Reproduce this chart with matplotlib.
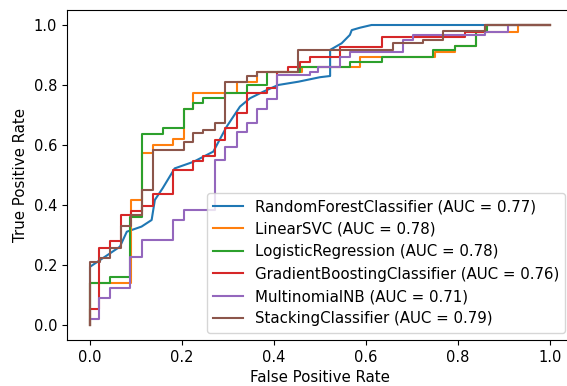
import matplotlib
matplotlib.use("Agg")
import matplotlib.pyplot as plt

# step vertices (fpr, tpr)
labels = ["RandomForestClassifier", "LinearSVC", "LogisticRegression",
          "GradientBoostingClassifier", "MultinomialNB", "StackingClassifier"]
aucs = [0.77, 0.78, 0.78, 0.76, 0.71, 0.79]

rf_fpr = [0, 0, 0.065, 0.080, 0.112, 0.134, 0.141, 0.158, 0.184, 0.225, 0.268, 0.297,
          0.326, 0.348, 0.377, 0.409, 0.453, 0.500, 0.522, 0.522, 0.547, 0.565, 0.569,
          0.587, 0.612, 1.0]
rf_tpr = [0, 0.194, 0.261, 0.311, 0.328, 0.350, 0.417, 0.456, 0.522, 0.544, 0.578, 0.661,
          0.728, 0.756, 0.778, 0.800, 0.811, 0.826, 0.830, 0.917, 0.939, 0.967, 0.983,
          0.991, 1.0, 1.0]

svc_fpr = [0, 0, 0.089, 0.089, 0.113, 0.113, 0.137, 0.137, 0.181, 0.181, 0.204, 0.204,
           0.225, 0.225, 0.319, 0.319, 0.362, 0.362, 0.460, 0.460, 0.587, 0.587, 0.750,
           0.750, 0.793, 0.793, 0.839, 0.839, 0.931, 0.931, 1.0]
svc_tpr = [0, 0.139, 0.139, 0.417, 0.417, 0.575, 0.575, 0.600, 0.600, 0.620, 0.620, 0.720,
           0.720, 0.775, 0.775, 0.811, 0.811, 0.845, 0.845, 0.861, 0.861, 0.894, 0.894,
           0.911, 0.911, 0.930, 0.930, 0.978, 0.978, 1.0, 1.0]

lr_fpr = [0, 0, 0.043, 0.043, 0.088, 0.088, 0.113, 0.113, 0.159, 0.159, 0.204, 0.204,
          0.225, 0.225, 0.246, 0.246, 0.293, 0.293, 0.341, 0.341, 0.384, 0.384, 0.457,
          0.457, 0.565, 0.565, 0.634, 0.634, 0.746, 0.746, 0.793, 0.793, 0.839, 0.839,
          0.862, 0.862, 1.0]
lr_tpr = [0, 0.139, 0.139, 0.160, 0.160, 0.360, 0.360, 0.636, 0.636, 0.658, 0.658, 0.720,
          0.720, 0.739, 0.739, 0.756, 0.756, 0.772, 0.772, 0.800, 0.800, 0.845, 0.845,
          0.860, 0.860, 0.878, 0.878, 0.894, 0.894, 0.917, 0.917, 0.930, 0.930, 0.978,
          0.978, 1.0, 1.0]

gb_fpr = [0, 0, 0.020, 0.020, 0.043, 0.043, 0.067, 0.067, 0.090, 0.090, 0.112, 0.112,
          0.137, 0.137, 0.181, 0.181, 0.225, 0.225, 0.246, 0.246, 0.272, 0.272, 0.293,
          0.293, 0.319, 0.319, 0.341, 0.341, 0.384, 0.384, 0.406, 0.406, 0.431, 0.431,
          0.457, 0.457, 0.478, 0.478, 0.543, 0.543, 0.634, 0.634, 0.815, 0.815, 0.859,
          0.859, 1.0]
gb_tpr = [0, 0.054, 0.054, 0.258, 0.258, 0.280, 0.280, 0.367, 0.367, 0.380, 0.380, 0.397,
          0.397, 0.436, 0.436, 0.518, 0.518, 0.547, 0.547, 0.564, 0.564, 0.617, 0.617,
          0.656, 0.656, 0.706, 0.706, 0.772, 0.772, 0.789, 0.789, 0.843, 0.843, 0.860,
          0.860, 0.878, 0.878, 0.894, 0.894, 0.928, 0.928, 0.960, 0.960, 0.978, 0.978,
          1.0, 1.0]

nb_fpr = [0, 0, 0.020, 0.020, 0.043, 0.043, 0.088, 0.088, 0.112, 0.112, 0.181, 0.181,
          0.204, 0.204, 0.272, 0.272, 0.293, 0.293, 0.319, 0.319, 0.341, 0.341, 0.362,
          0.362, 0.384, 0.384, 0.406, 0.406, 0.478, 0.478, 0.496, 0.496, 0.543, 0.543,
          0.565, 0.565, 0.681, 0.681, 0.703, 0.703, 0.859, 0.859, 0.909, 0.909, 1.0]
nb_tpr = [0, 0.019, 0.019, 0.089, 0.089, 0.125, 0.125, 0.227, 0.227, 0.282, 0.282, 0.350,
          0.350, 0.383, 0.383, 0.550, 0.550, 0.592, 0.592, 0.645, 0.645, 0.675, 0.675,
          0.720, 0.720, 0.753, 0.753, 0.833, 0.833, 0.844, 0.844, 0.861, 0.861, 0.894,
          0.894, 0.911, 0.911, 0.950, 0.950, 0.967, 0.967, 0.978, 0.978, 1.0, 1.0]

st_fpr = [0, 0, 0.022, 0.022, 0.043, 0.043, 0.067, 0.067, 0.089, 0.089, 0.112, 0.112,
          0.138, 0.138, 0.204, 0.204, 0.225, 0.225, 0.246, 0.246, 0.272, 0.272, 0.293,
          0.293, 0.341, 0.341, 0.362, 0.362, 0.453, 0.453, 0.659, 0.659, 0.725, 0.725,
          0.768, 0.768, 0.859, 0.859, 1.0]
st_tpr = [0, 0.211, 0.211, 0.224, 0.224, 0.256, 0.256, 0.331, 0.331, 0.367, 0.367, 0.450,
          0.450, 0.585, 0.585, 0.611, 0.611, 0.639, 0.639, 0.650, 0.650, 0.672, 0.672,
          0.811, 0.811, 0.831, 0.831, 0.845, 0.845, 0.917, 0.917, 0.939, 0.939, 0.950,
          0.950, 0.981, 0.981, 1.0, 1.0]

curves = [(rf_fpr, rf_tpr), (svc_fpr, svc_tpr), (lr_fpr, lr_tpr),
          (gb_fpr, gb_tpr), (nb_fpr, nb_tpr), (st_fpr, st_tpr)]

fig = plt.figure(figsize=(5.67, 3.86), dpi=100)
ax = fig.add_axes([67 / 567, 46 / 386, 506 / 567, 330 / 386])

for (fpr, tpr), name, auc in zip(curves, labels, aucs):
    ax.plot(fpr, tpr, lw=1.5, label=f"{name} (AUC = {auc:.2f})")

ax.set_xlim(-0.05, 1.05)
ax.set_ylim(-0.05, 1.05)
ax.set_xticks([0.0, 0.2, 0.4, 0.6, 0.8, 1.0])
ax.set_yticks([0.0, 0.2, 0.4, 0.6, 0.8, 1.0])
ax.tick_params(labelsize=10.5)
ax.set_xlabel("False Positive Rate", fontsize=10.8)
ax.set_ylabel("True Positive Rate", fontsize=10.8)
ax.legend(loc="lower right", fontsize=10.8)

fig.savefig("out.png", dpi=100)
